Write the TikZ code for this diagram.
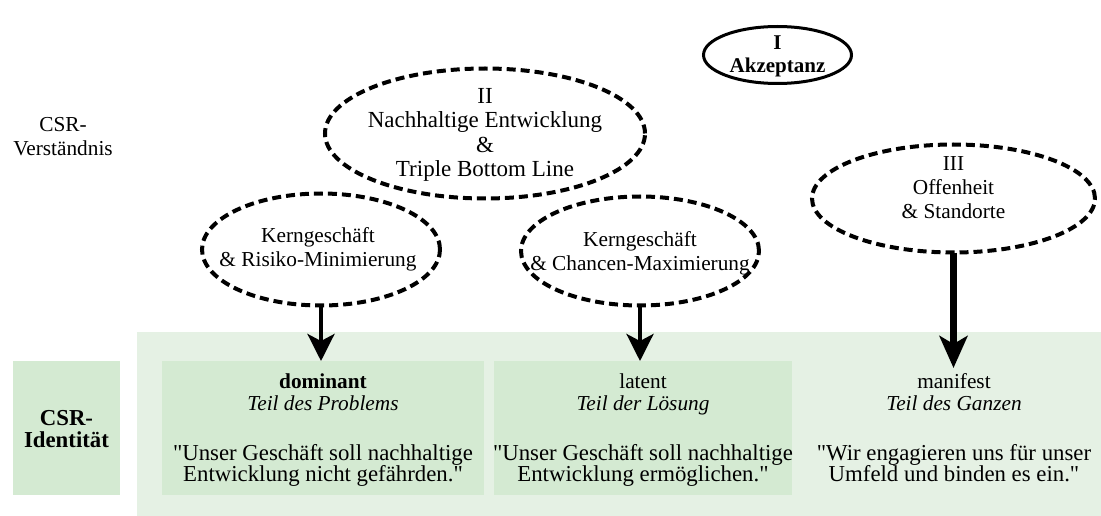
\documentclass[tikz,border=0pt]{standalone}
\usepackage{fontspec}
\setmainfont{Liberation Serif}
\newfontfamily\plainqfont{Liberation Serif}
\newcommand\straightq{{\plainqfont"}}
\usetikzlibrary{arrows.meta,shapes.geometric}
\definecolor{bglight}{RGB}{229,241,228}
\definecolor{boxgreen}{RGB}{212,234,210}
\begin{document}
\begin{tikzpicture}[x=1pt,y=-1pt,
  every node/.style={inner sep=0pt, outer sep=0pt},
  dell/.style={ellipse, draw, line width=4pt, dash pattern=on 9pt off 5pt},
  sell/.style={ellipse, draw, line width=3pt},
  fs/.style={font=\fontsize{21.3}{24}\selectfont, align=center},
  fbig/.style={font=\fontsize{23}{24.6}\selectfont, align=center},
  fq/.style={font=\fontsize{22.8}{23}\selectfont, anchor=base},
  ft/.style={font=\fontsize{21.3}{23}\selectfont, anchor=base},
  fill box/.style={rectangle, fill=#1, draw=none},
  arr/.style={line width=4pt, -{Stealth[length=27pt,width=27pt,inset=7pt]}},
  arrbig/.style={line width=6.5pt, -{Stealth[length=32pt,width=28pt,inset=8pt]}},
]
\useasboundingbox (0,0) rectangle (1101,516);

% backgrounds
\node[fill box=bglight, minimum width=964pt, minimum height=184pt] (bg) at (619,424) {};
\node[fill box=boxgreen, minimum width=107pt, minimum height=134pt] (idbox) at (66.5,428) {};
\node[fill box=boxgreen, minimum width=322pt, minimum height=134pt] (dombox) at (323,428) {};
\node[fill box=boxgreen, minimum width=298pt, minimum height=134pt] (latbox) at (643,428) {};
\coordinate (mantop) at (953.5,368);

% left labels
\node[fs] (verst) at (63,136.5) {CSR-\\Verständnis};
\node[font=\fontsize{22.8}{22.5}\selectfont\bfseries, align=center] (ident) at (66.5,429) {CSR-\\Identität};

% ellipses
\node[sell, minimum width=148pt, minimum height=57pt] (eI) at (777.5,55) {};
\node[fs, font=\fontsize{21}{23}\selectfont\bfseries] (tI) at (777.5,56) {I\\Akzeptanz};

\node[dell, minimum width=320pt, minimum height=130pt] (eII) at (485,133.5) {};
\node[fbig] (tII) at (485,135) {II\\Nachhaltige Entwicklung\\\&\\Triple Bottom Line};

\node[dell, minimum width=238pt, minimum height=112pt] (eR) at (321,249.5) {};
\node[fs] (tR) at (318,249.5) {Kerngeschäft\\\& Risiko-Minimierung};

\node[dell, minimum width=238pt, minimum height=109pt] (eC) at (640,251) {};
\node[fs] (tC) at (640,253) {Kerngeschäft\\\& Chancen-Maximierung};

\node[dell, minimum width=283pt, minimum height=108pt] (eIII) at (953.5,198.5) {};
\node[fs] (tIII) at (953.5,188) {III\\Offenheit\\\& Standorte};

% column texts
\node[ft] (d1) at (323,388) {\bfseries dominant};
\node[ft] (d2) at (323,410) {\itshape Teil des Problems};
\node[fq] (d3) at (323,460.3) {\straightq Unser Geschäft soll nachhaltige};
\node[fq] (d4) at (323,481.8) {Entwicklung nicht gefährden.\straightq};

\node[ft] (l1) at (643,388) {latent};
\node[ft] (l2) at (643,410) {\itshape Teil der Lösung};
\node[fq] (l3) at (643,460.3) {\straightq Unser Geschäft soll nachhaltige};
\node[fq] (l4) at (643,481.8) {Entwicklung ermöglichen.\straightq};

\node[ft] (m1) at (954,388) {manifest};
\node[ft] (m2) at (954,410) {\itshape Teil des Ganzen};
\node[fq] (m3) at (954,460.3) {\straightq Wir engagieren uns für unser};
\node[fq] (m4) at (954,481.8) {Umfeld und binden es ein.\straightq};

% arrows
\draw[arr] (eR.south) -- (eR.south |- dombox.north);
\draw[arr] (eC.south) -- (eC.south |- latbox.north);
\draw[arrbig] (eIII.south) -- (mantop);
\end{tikzpicture}
\end{document}
